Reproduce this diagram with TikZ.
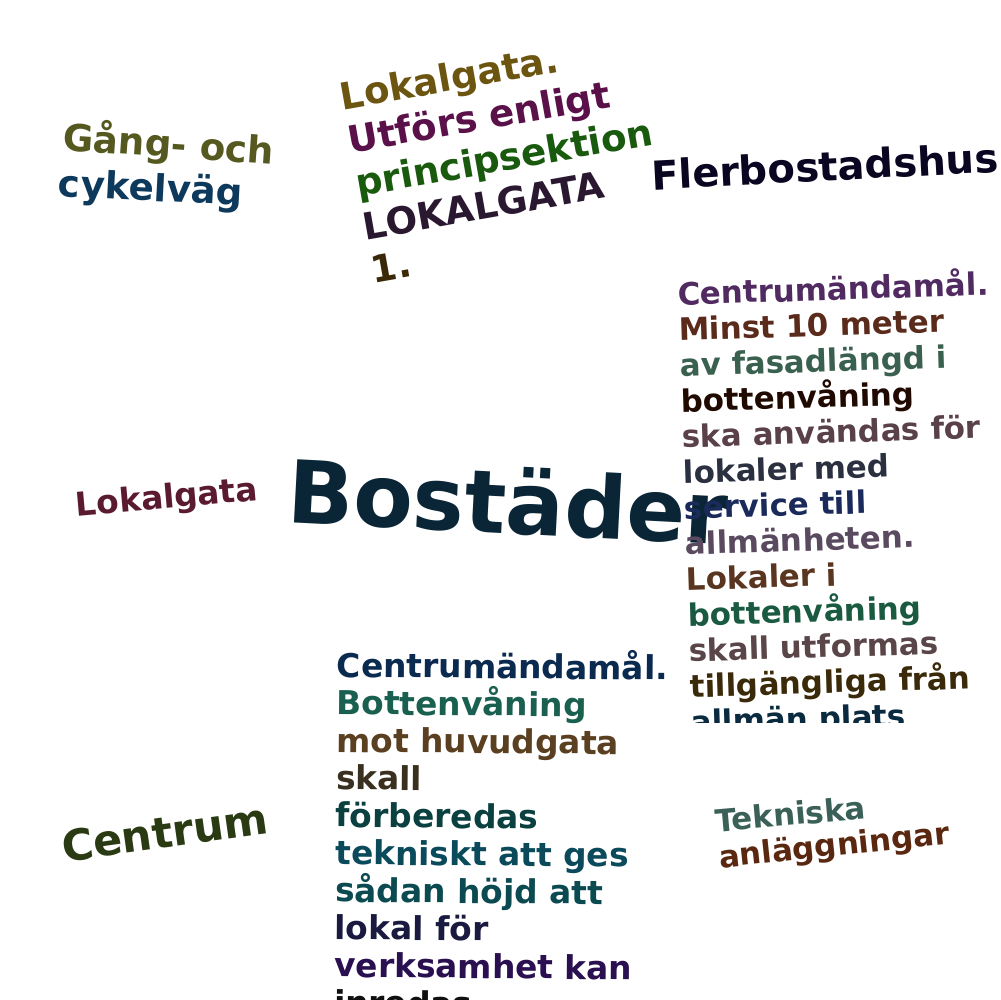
\documentclass[tikz,border=0pt]{standalone}
\usepackage{fontspec}
\setmainfont{DejaVu Sans}

\definecolor{gangcol}{HTML}{55581F}
\definecolor{cykelcol}{HTML}{0D3A5C}
\definecolor{lokalpunktcol}{HTML}{6B5510}
\definecolor{utforscol}{HTML}{5A1048}
\definecolor{principcol}{HTML}{1A5A0E}
\definecolor{versalcol}{HTML}{2A1830}
\definecolor{ettcol}{HTML}{3A2808}
\definecolor{flercol}{HTML}{0A0520}
\definecolor{bostadcol}{HTML}{0A2535}
\definecolor{lokalcol}{HTML}{5A1A30}
\definecolor{centrumcol}{HTML}{2A3A12}
\definecolor{tekncol}{HTML}{3A6058}
\definecolor{anlcol}{HTML}{5A2810}
% right block
\definecolor{ra}{HTML}{502A60}
\definecolor{rb}{HTML}{5A2A1A}
\definecolor{rc}{HTML}{3A6050}
\definecolor{rd}{HTML}{200A00}
\definecolor{re}{HTML}{5A4048}
\definecolor{rf}{HTML}{2A3040}
\definecolor{rg}{HTML}{1A2A5A}
\definecolor{rh}{HTML}{5A4A60}
\definecolor{ri}{HTML}{5A3520}
\definecolor{rj}{HTML}{1A5A40}
\definecolor{rk}{HTML}{5A4548}
\definecolor{rl}{HTML}{3A2A0A}
\definecolor{rm}{HTML}{0A2A40}
% bottom block
\definecolor{ba}{HTML}{0A2A50}
\definecolor{bb}{HTML}{1A6050}
\definecolor{bc}{HTML}{5A4020}
\definecolor{bd}{HTML}{3A3020}
\definecolor{be}{HTML}{0A4040}
\definecolor{bf}{HTML}{0A4A5A}
\definecolor{bg}{HTML}{0A4A50}
\definecolor{bh}{HTML}{1A1A40}
\definecolor{bi}{HTML}{2A1050}
\definecolor{bj}{HTML}{101010}

\begin{document}
\begin{tikzpicture}[x=0.1mm, y=-0.1mm, word node/.style={anchor=base west, inner sep=0pt, outer sep=0pt}, huge word/.style={word node, font=\bfseries\fontsize{24.7}{28}\selectfont}, large word/.style={word node, font=\bfseries\fontsize{12.2}{14}\selectfont}, mid word/.style={word node, font=\bfseries\fontsize{10.6}{12}\selectfont}, small word/.style={word node, font=\bfseries\fontsize{9.35}{11}\selectfont}, tiny word/.style={word node, font=\bfseries\fontsize{8.8}{10}\selectfont}]
\useasboundingbox[fill=white] (0,0) rectangle (1000,1000);

% upper left
\node[mid word, text=gangcol, rotate=-4] (gang) at (62,150) {Gång- och};
\node[mid word, text=cykelcol, rotate=-3] (cykel) at (58,196) {cykelväg};

% upper block
\begin{scope}[shift={(343,110)}, rotate=10, transform shape]
\node[mid word, text=lokalpunktcol] (t0) at (0,0) {Lokalgata.};
\node[mid word, text=utforscol] (t1) at (0,44) {Utförs enligt};
\node[mid word, text=principcol] (t2) at (0,88) {principsektion};
\node[mid word, text=versalcol] (t3) at (0,132) {LOKALGATA};
\node[mid word, text=ettcol] (t4) at (0,176) {1.};
\end{scope}

% upper right
\node[word node, font=\bfseries\fontsize{11.4}{13}\selectfont, text=flercol, rotate=3] (fler) at (652,190) {Flerbostadshus};

% middle
\node[huge word, text=bostadcol, rotate=-3] (bostad) at (286,522) {Bostäder};
\node[small word, text=lokalcol, rotate=5] (lokal) at (77,516) {Lokalgata};

% right block
\begin{scope}
\clip (640,250) rectangle (1000,722);
\begin{scope}[shift={(678,305)}, rotate=1.8, transform shape]
\node[tiny word, text=ra] (r0) at (0,0) {Centrumändamål.};
\node[tiny word, text=rb] (r1) at (0,35.7) {Minst 10 meter};
\node[tiny word, text=rc] (r2) at (0,71.4) {av fasadlängd i};
\node[tiny word, text=rd] (r3) at (0,107.1) {bottenvåning};
\node[tiny word, text=re] (r4) at (0,142.8) {ska användas för};
\node[tiny word, text=rf] (r5) at (0,178.5) {lokaler med};
\node[tiny word, text=rg] (r6) at (0,214.2) {service till};
\node[tiny word, text=rh] (r7) at (0,249.9) {allmänheten.};
\node[tiny word, text=ri] (r8) at (0,285.6) {Lokaler i};
\node[tiny word, text=rj] (r9) at (0,321.3) {bottenvåning};
\node[tiny word, text=rk] (r10) at (0,357) {skall utformas};
\node[tiny word, text=rl] (r11) at (0,392.7) {tillgängliga från};
\node[tiny word, text=rm] (r12) at (0,428.4) {allmän plats};
\end{scope}
\end{scope}

% bottom block
\begin{scope}[shift={(337,677)}, rotate=-0.5, transform shape]
\node[small word, text=ba] (b0) at (0,0) {Centrumändamål.};
\node[small word, text=bb] (b1) at (0,37.5) {Bottenvåning};
\node[small word, text=bc] (b2) at (0,75) {mot huvudgata};
\node[small word, text=bd] (b3) at (0,112.5) {skall};
\node[small word, text=be] (b4) at (0,150) {förberedas};
\node[small word, text=bf] (b5) at (0,187.5) {tekniskt att ges};
\node[small word, text=bg] (b6) at (0,225) {sådan höjd att};
\node[small word, text=bh] (b7) at (0,262.5) {lokal för};
\node[small word, text=bi] (b8) at (0,300) {verksamhet kan};
\node[small word, text=bj] (b9) at (0,337.5) {inredas};
\end{scope}

% lower left and right
\node[large word, text=centrumcol, rotate=8] (centrum) at (64,862) {Centrum};
\node[tiny word, text=tekncol, rotate=5] (tekn) at (716,832) {Tekniska};
\node[tiny word, text=anlcol, rotate=6] (anl) at (720,868) {anläggningar};

\end{tikzpicture}
\end{document}
